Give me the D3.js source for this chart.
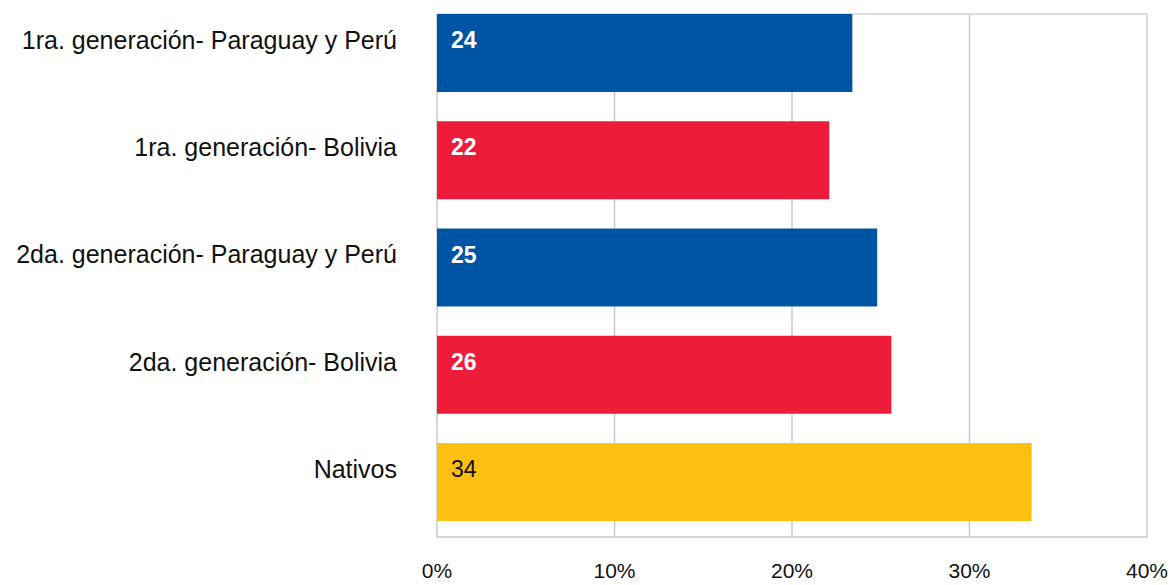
<!DOCTYPE html>
<html>
<head>
<meta charset="utf-8">
<script src="https://cdn.jsdelivr.net/npm/d3@7"></script>
<style>
  body { margin: 0; background: #fff; }
  text { font-family: "Liberation Sans", Arial, sans-serif; }
</style>
</head>
<body>
<svg id="chart"></svg>
<script>
var categories = [
  "1ra. generación- Paraguay y Perú",
  "1ra. generación- Bolivia",
  "2da. generación- Paraguay y Perú",
  "2da. generación- Bolivia",
  "Nativos"
];
var values = [23.4, 22.1, 24.8, 25.6, 33.5];
var labels = ["24", "22", "25", "26", "34"];
var colors = ["#0054a4", "#ee1c3b", "#0054a4", "#ee1c3b", "#fdc010"];
var ticks = [0, 10, 20, 30, 40];

var width = 1171, height = 585;
var plotLeft = 437, plotRight = 1147, plotTop = 14, plotBottom = 537;

var svg = d3.select("#chart").attr("width", width).attr("height", height);

var x = d3.scaleLinear().domain([0, 40]).range([plotLeft, plotRight]);
var y = d3.scaleBand().domain(categories).range([plotTop, 521])
  .paddingInner(0.273).paddingOuter(0);

// grid
svg.append("g").selectAll("line").data(ticks).enter().append("line")
  .attr("x1", d => x(d)).attr("x2", d => x(d))
  .attr("y1", plotTop).attr("y2", plotBottom)
  .attr("stroke", "#c8c8c8").attr("stroke-width", 1.5);

svg.append("line").attr("x1", plotLeft).attr("x2", plotRight)
  .attr("y1", plotTop).attr("y2", plotTop)
  .attr("stroke", "#d0d0d0").attr("stroke-width", 1.5);
svg.append("line").attr("x1", plotLeft).attr("x2", plotRight)
  .attr("y1", plotBottom).attr("y2", plotBottom)
  .attr("stroke", "#c8c8c8").attr("stroke-width", 1.5);

// bars
var rows = categories.map((c, i) => ({c: c, v: values[i], l: labels[i], col: colors[i], i: i}));

svg.append("g").selectAll("rect").data(rows).enter().append("rect")
  .attr("x", x(0)).attr("y", d => y(d.c))
  .attr("width", d => x(d.v) - x(0)).attr("height", y.bandwidth())
  .attr("fill", d => d.col);

svg.append("g").selectAll("text").data(rows).enter().append("text")
  .attr("x", x(0) + 14).attr("y", d => y(d.c) + 26)
  .attr("dy", "0.35em")
  .style("font-size", "23px")
  .style("font-weight", d => d.i < 4 ? "bold" : "normal")
  .attr("fill", d => d.i < 4 ? "#fff" : "#111")
  .text(d => d.l);

// category labels
svg.append("g").selectAll("text").data(rows).enter().append("text")
  .attr("x", 397).attr("y", d => y(d.c) + 26)
  .attr("dy", "0.35em")
  .attr("text-anchor", "end")
  .style("font-size", "25px")
  .attr("fill", "#111")
  .text(d => d.c);

// x tick labels
svg.append("g").selectAll("text").data(ticks).enter().append("text")
  .attr("x", d => x(d)).attr("y", 571)
  .attr("dy", "0.35em")
  .attr("text-anchor", "middle")
  .style("font-size", "21px")
  .attr("fill", "#111")
  .text(d => d + "%");
</script>
</body>
</html>
